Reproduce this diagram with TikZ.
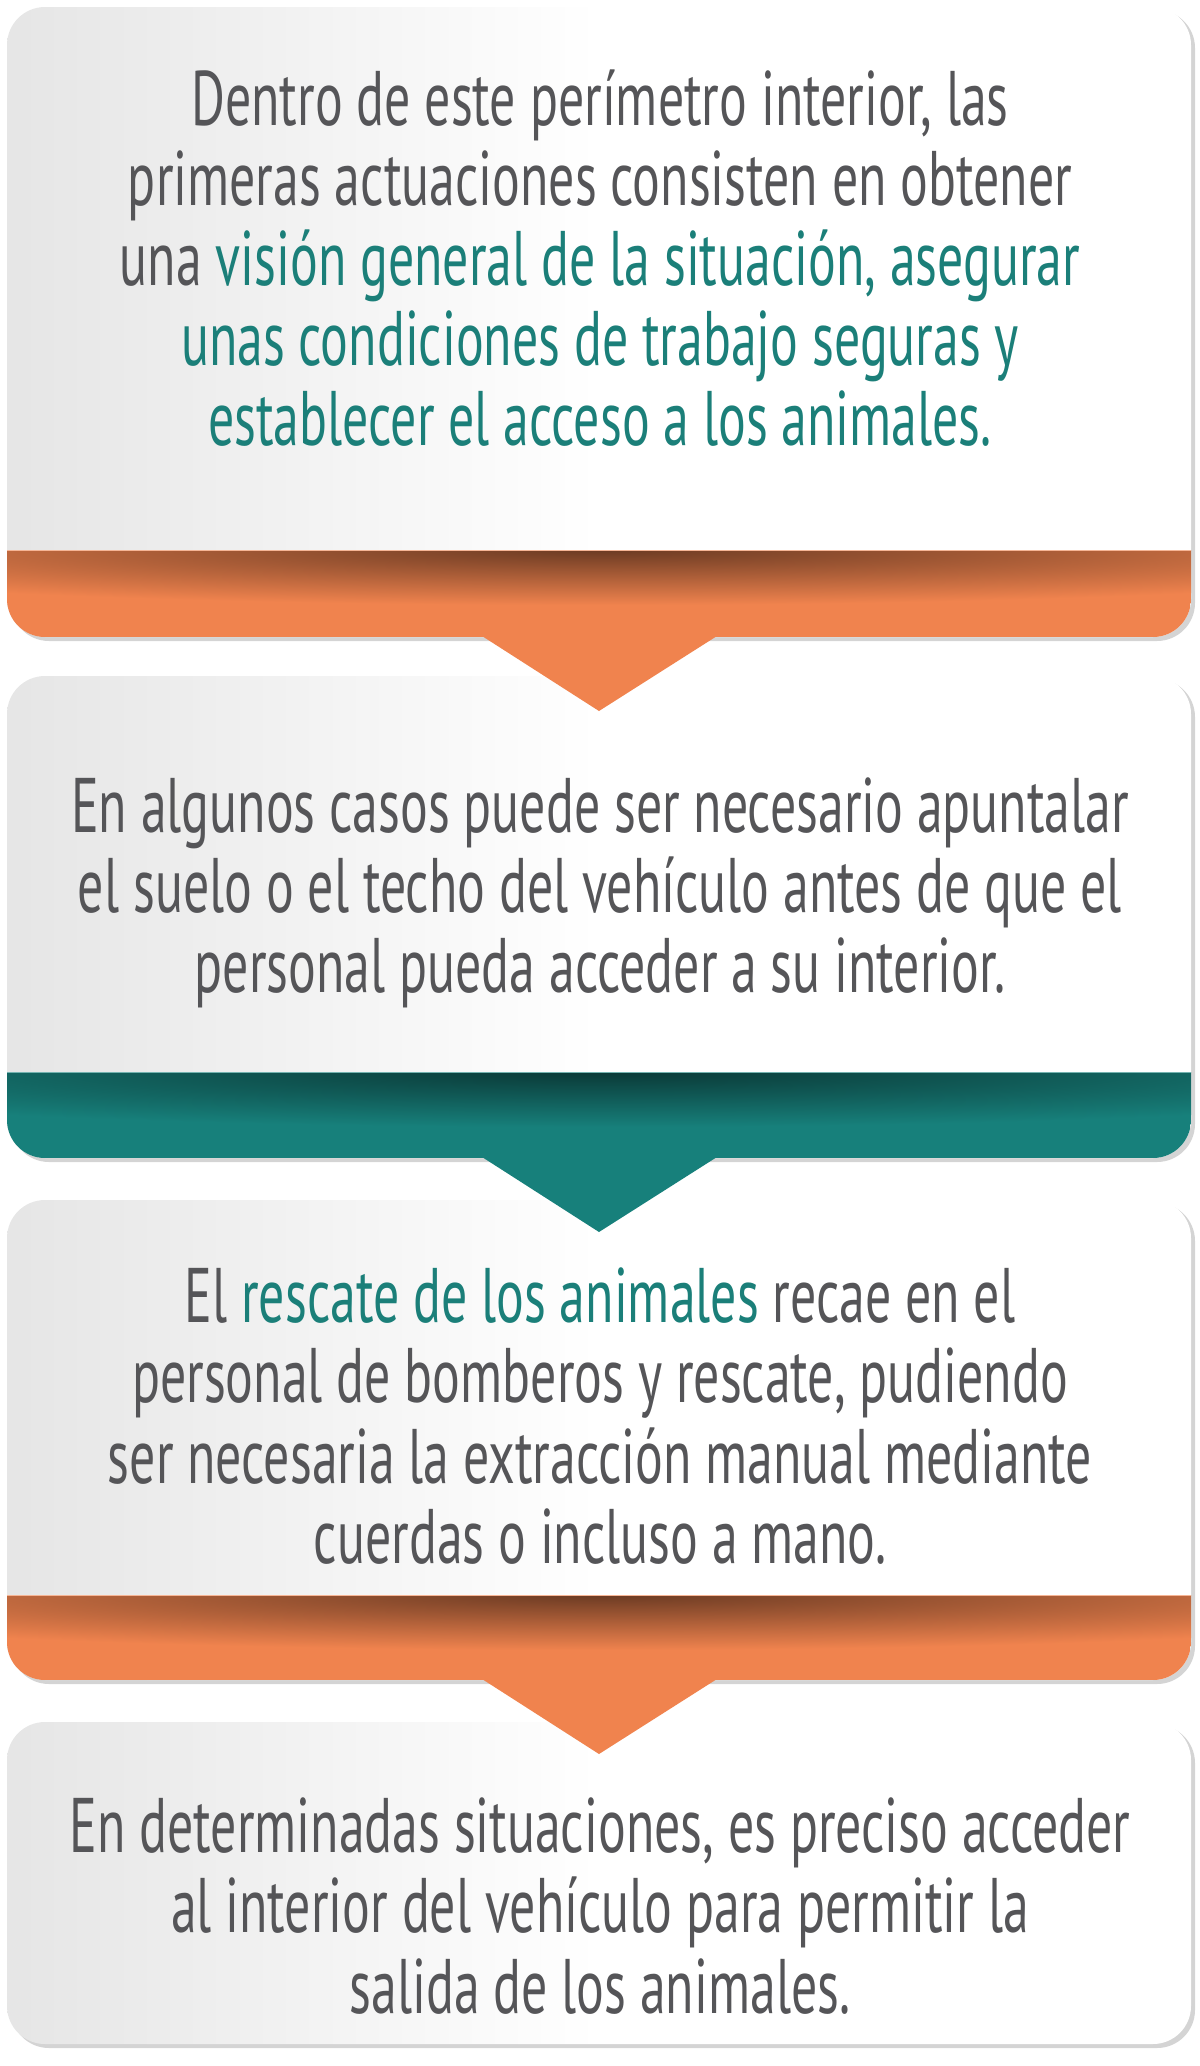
\documentclass[tikz,border=0pt]{standalone}
\usepackage{fontspec}
\setmainfont{PT Sans}[FakeStretch=0.67]
\usepackage{xcolor}
\usetikzlibrary{positioning}
\definecolor{txtgray}{HTML}{555558}
\definecolor{tealtxt}{HTML}{1B7F79}
\definecolor{bandorange}{HTML}{F0834E}
\definecolor{bandteal}{HTML}{17807B}
\definecolor{shadowgray}{HTML}{D4D4D4}
\newcommand{\hl}[1]{\textcolor{tealtxt}{#1}}

\begin{document}
\begin{tikzpicture}[x=0.01cm, y=-0.01cm,
  card/.style={rounded corners=0.38cm, left color=black!10, right color=white, middle color=white},
  cardshadow/.style={fill=shadowgray, rounded corners=0.38cm},
  msg/.style={align=center, text=txtgray, font=\fontsize{22}{22.8}\selectfont}]
  \useasboundingbox (0,0) rectangle (1200,2066);
  % cards with a coloured band
  \foreach \ytop/\yband/\ybot/\col in {7/550/637/bandorange, 676/1072/1158/bandteal, 1200/1595/1680/bandorange} {
    \fill[cardshadow] (11,\ytop+3) rectangle (1195,\ybot+4);
    \shade[card] (7,\ytop) rectangle (1191,\ybot);
    \begin{scope}
      \clip[rounded corners=0.38cm] (7,\ytop) rectangle (1191,\ybot);
      \fill[\col] (7,\yband) rectangle (1191,\ybot);
      \clip (7,\yband) rectangle (1191,\ybot);
      \shade[inner color=black!55!\col, outer color=\col] (600,\yband) ellipse [x radius=950, y radius=55];
      \draw[\col!60!white, line width=0.6pt] (7,\yband) -- (1191,\yband);
    \end{scope}
  }
  % last card
  \fill[cardshadow] (11,1725) rectangle (1195,2048);
  \shade[card] (7,1722) rectangle (1191,2044);
  % pointers
  \foreach \ybot/\col in {637/bandorange, 1158/bandteal, 1680/bandorange}
    \fill[\col] (482,\ybot-1) -- (717,\ybot-1) -- (599,\ybot+74) -- cycle;
  % texts
  \node[msg] (first) at (600,258) {Dentro de este perímetro interior, las\\
    primeras actuaciones consisten en obtener\\
    una \hl{visión general de la situación, asegurar}\\
    \hl{unas condiciones de trabajo seguras y}\\
    \hl{establecer el acceso a los animales.}};
  \node[msg] (second) at (600,893) {En algunos casos puede ser necesario apuntalar\\
    el suelo o el techo del vehículo antes de que el\\
    personal pueda acceder a su interior.};
  \node[msg] (third) at (600,1416) {El \hl{rescate de los animales} recae en el\\
    personal de bomberos y rescate, pudiendo\\
    ser necesaria la extracción manual mediante\\
    cuerdas o incluso a mano.};
  \node[msg] (fourth) at (600,1906) {En determinadas situaciones, es preciso acceder\\
    al interior del vehículo para permitir la\\
    salida de los animales.};
\end{tikzpicture}
\end{document}
